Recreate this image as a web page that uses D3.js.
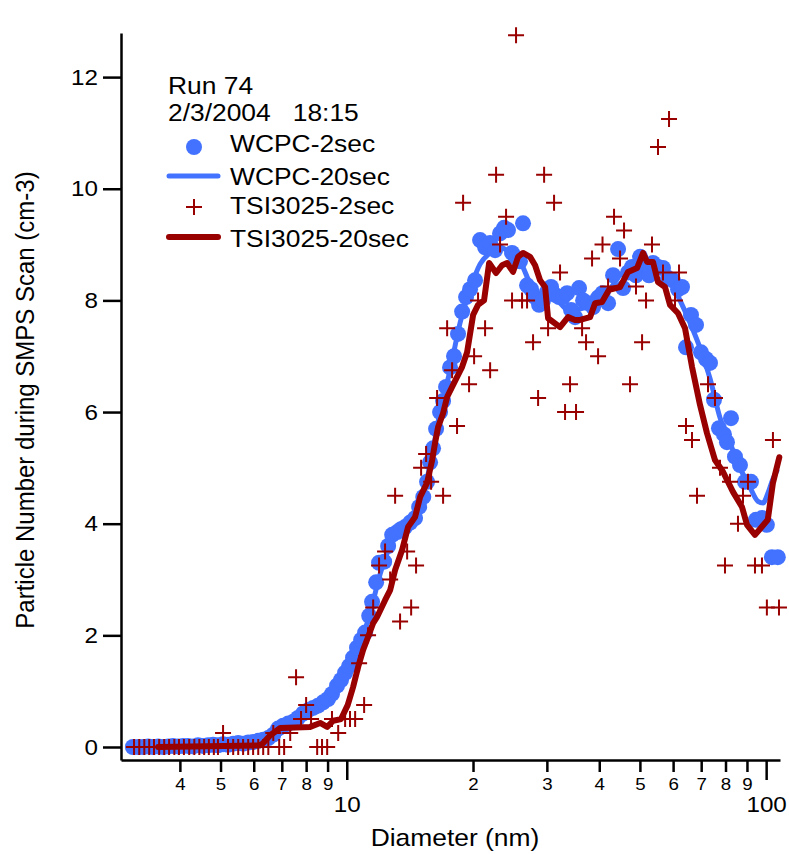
<!DOCTYPE html>
<html><head><meta charset="utf-8">
<script src="https://cdn.jsdelivr.net/npm/d3@7"></script>
<style>body{margin:0;background:#fff} svg{display:block} text{font-family:"Liberation Sans",Arial,Helvetica,sans-serif;fill:#000}</style>
</head><body><svg id="chart" width="789" height="854"></svg>
<script>
// ---------- data ----------
const xMinorTicks = [4,5,6,7,8,9,20,30,40,50,60,70,80,90];
const xMinorLabels = ["4","5","6","7","8","9","2","3","4","5","6","7","8","9"];
const xMajorTicks = [10,100];
const yTicks = [0,2,4,6,8,10,12];
const legendTitle = ["Run 74","2/3/2004   18:15"];
const seriesNames = ["WCPC-2sec","WCPC-20sec","TSI3025-2sec","TSI3025-20sec"];

// [diameter nm, particle number]
const wcpc2sec = [[3.09,0.0],[3.18,0.0],[3.27,0.0],[3.36,0.01],[3.45,0.0],[3.55,0.01],[3.65,0.0],[3.75,0.01],[3.85,0.02],[3.96,0.01],[4.07,0.02],[4.18,0.02],[4.30,0.01],[4.42,0.03],[4.54,0.02],[4.67,0.03],[4.80,0.04],[4.93,0.03],[5.07,0.05],[5.21,0.04],[5.36,0.06],[5.51,0.07],[5.66,0.06],[5.82,0.08],[5.98,0.09],[6.15,0.11],[6.32,0.13],[6.50,0.16],[6.68,0.22],[6.86,0.33],[7.05,0.38],[7.25,0.42],[7.45,0.45],[7.65,0.52],[7.87,0.6],[8.09,0.66],[8.31,0.7],[8.54,0.74],[8.78,0.8],[9.02,0.86],[9.22,0.95],[9.48,1.1],[9.69,1.2],[9.91,1.33],[10.13,1.45],[10.35,1.6],[10.58,1.78],[10.82,1.92],[11.06,2.05],[11.31,2.35],[11.49,2.6],[11.75,2.95],[11.94,3.3],[12.28,3.32],[12.55,3.6],[12.83,3.8],[13.19,3.85],[13.47,3.9],[13.77,3.94],[14.16,4.02],[14.55,4.1],[14.88,4.3],[15.22,4.48],[15.54,4.75],[15.80,5.1],[16.06,5.35],[16.33,5.7],[16.69,6.0],[16.97,6.2],[17.25,6.45],[17.63,6.8],[18.02,7.0],[18.42,7.4],[18.84,7.8],[19.25,8.06],[19.68,8.2],[20.23,8.36],[20.79,9.08],[21.37,8.95],[21.97,9.03],[22.58,8.9],[23.20,9.2],[23.72,9.3],[24.24,9.26],[24.78,8.85],[25.33,8.76],[25.89,8.7],[26.32,9.38],[26.91,8.27],[27.51,8.2],[28.12,8.06],[28.74,7.92],[29.38,8.0],[30.03,8.15],[30.70,8.24],[31.38,8.1],[32.08,8.06],[32.79,8.06],[33.52,8.13],[34.26,7.83],[35.02,7.7],[35.80,8.22],[36.60,8.0],[37.62,7.95],[38.67,7.88],[39.74,8.05],[40.72,8.13],[41.98,7.95],[43.15,8.45],[44.35,8.92],[45.58,8.22],[46.84,8.5],[47.88,8.6],[48.94,8.45],[50.04,8.78],[51.43,8.55],[52.56,8.45],[53.72,8.67],[55.22,8.6],[56.76,8.58],[58.35,8.4],[59.97,8.36],[61.64,8.2],[63.01,8.24],[64.40,7.16],[66.20,7.74],[68.04,7.56],[69.92,7.07],[71.87,6.95],[73.47,6.88],[75.10,6.22],[77.18,5.71],[79.33,5.6],[80.64,5.46],[82.44,5.89],[84.27,5.2],[86.62,5.05],[89.03,4.75],[92.00,4.75],[94.56,4.07],[97.73,4.1],[100.4,3.98],[103.2,3.4],[106.6,3.4]];

const wcpc20sec = [[3.09,0.0],[3.59,0.01],[4.47,0.02],[5.27,0.05],[5.88,0.08],[6.39,0.14],[6.75,0.25],[7.13,0.38],[7.74,0.55],[8.40,0.72],[9.12,0.9],[9.64,1.15],[10.18,1.45],[10.76,1.85],[11.37,2.4],[12.01,3.1],[12.69,3.6],[13.40,3.9],[14.16,4.05],[14.96,4.35],[15.80,5.05],[16.69,6.0],[17.63,6.75],[18.63,7.6],[19.68,8.2],[20.79,8.65],[21.97,8.85],[23.20,8.95],[24.51,8.85],[25.89,8.7],[27.36,8.3],[28.90,8.0],[30.53,8.1],[32.25,7.95],[34.07,7.8],[36.00,7.85],[38.03,7.9],[40.17,8.0],[42.44,8.2],[44.83,8.45],[47.36,8.55],[50.04,8.62],[52.85,8.6],[55.84,8.55],[58.99,8.35],[62.32,8.0],[65.84,7.6],[69.54,7.15],[73.47,6.6],[77.61,5.9],[81.99,5.45],[86.62,5.0],[91.50,4.65],[95.6,4.4],[98.3,4.37],[101.0,4.55],[103.8,4.8],[106.1,4.95]];

const tsi2sec = [[3.11,0],[3.20,0],[3.29,0],[3.38,0],[3.47,0],[3.57,0],[3.67,0],[3.77,0],[3.88,0],[3.98,0],[4.09,0],[4.21,0],[4.33,0],[4.45,0],[4.57,0],[4.69,0],[4.82,0],[4.93,0],[5.07,0.25],[5.21,0],[5.36,0],[5.51,0],[5.66,0],[5.82,0],[5.98,0],[6.15,0],[6.32,0],[6.50,0],[6.68,0.25],[6.90,0],[7.09,0],[7.33,0.25],[7.57,1.25],[7.78,0.5],[8.00,0.75],[8.22,0.5],[8.50,0],[8.73,0],[8.98,0],[9.22,0.5],[9.54,0.25],[9.91,0.5],[10.18,0.5],[10.47,0.5],[10.70,1.5],[11.00,0.75],[11.24,2.0],[11.56,2.5],[11.94,3.25],[12.34,3.5],[12.69,3.0],[13.04,4.5],[13.40,2.25],[13.93,3.5],[14.24,2.5],[14.63,3.25],[15.04,5.0],[15.46,5.25],[15.89,4.75],[16.42,6.25],[16.97,4.5],[17.35,7.5],[17.83,6.75],[18.32,5.75],[18.94,9.75],[19.57,6.5],[20.12,7.0],[20.56,8.0],[21.37,7.5],[21.97,6.75],[22.70,10.25],[23.20,9.0],[23.98,9.5],[24.78,8.0],[25.33,12.75],[26.18,8.0],[26.91,8.0],[27.81,7.25],[28.59,6.25],[29.55,10.25],[30.20,7.5],[31.21,9.75],[32.25,8.5],[33.15,6.0],[34.07,6.5],[35.21,6.0],[36.40,7.5],[37.20,7.25],[38.45,8.75],[39.74,7.0],[40.72,9.0],[41.98,8.25],[43.38,9.5],[44.83,8.75],[45.83,9.25],[47.36,6.5],[48.94,8.25],[50.60,7.25],[51.71,8.0],[53.43,9.0],[55.22,10.75],[56.76,8.5],[58.67,11.25],[60.63,8.0],[61.98,8.5],[64.40,5.75],[66.56,5.5],[68.41,4.5],[72.67,6.5],[75.51,6.25],[77.61,5.0],[79.77,3.25],[81.99,4.75],[85.67,4.0],[88.06,4.5],[90.50,4.75],[94.05,3.25],[97.73,3.25],[100.4,2.5],[103.8,5.5],[107.3,2.5]];

const tsi20sec = [[3.55,0.0],[6.21,0.03],[6.32,0.07],[6.57,0.21],[6.94,0.34],[8.18,0.36],[8.64,0.43],[8.98,0.36],[9.28,0.47],[9.69,0.5],[10.05,0.75],[10.35,1.07],[10.64,1.43],[10.94,1.74],[11.24,1.97],[11.56,2.22],[11.81,2.33],[12.34,2.63],[12.69,2.81],[13.04,3.17],[13.55,3.53],[14.00,3.94],[14.55,4.12],[14.96,4.48],[15.54,4.73],[15.98,5.14],[16.24,5.45],[16.51,5.73],[16.97,5.98],[17.35,6.27],[17.83,6.45],[18.84,6.81],[19.36,7.07],[20.01,7.74],[20.56,7.92],[21.25,8.0],[21.85,8.67],[22.70,8.49],[23.46,8.63],[24.11,8.67],[24.92,8.51],[25.61,8.78],[26.32,8.85],[27.36,8.78],[28.12,8.63],[28.90,8.36],[29.71,8.24],[30.20,7.68],[32.25,7.52],[33.70,7.7],[35.02,7.65],[36.00,7.65],[38.03,7.7],[39.09,7.95],[40.61,7.97],[42.21,8.19],[44.83,8.24],[46.84,8.51],[49.22,8.58],[50.88,8.85],[52.00,8.69],[53.72,8.69],[55.22,8.33],[57.39,8.24],[58.99,7.92],[61.64,7.77],[64.05,7.5],[66.56,6.81],[69.54,6.13],[72.27,5.62],[75.51,5.14],[78.90,4.93],[83.35,4.57],[87.58,4.3],[90.01,3.98],[94.05,3.8],[100.9,4.07],[103.8,4.73],[107.5,5.19]];

// ---------- drawing ----------
const W = 789, H = 854;
const SX = 1.1; // horizontal stretch of the original export's lettering
const blue = "#4272ff", red = "#990000";
const x = d3.scaleLog().domain([2.895, 107.9]).range([121, 780]);
const y = d3.scaleLinear().domain([-0.233, 12.79]).range([760, 33]);
const svg = d3.select("#chart");
svg.append("rect").attr("width", W).attr("height", H).attr("fill", "#fff");

function stext(g, px, py, str, size, anchor) {
  return g.append("text")
    .attr("transform", `translate(${px},${py}) scale(${SX},1)`)
    .attr("font-size", size)
    .attr("text-anchor", anchor || "start")
    .style("white-space", "pre")
    .text(str);
}

// y axis
const gy = svg.append("g").attr("transform", "translate(121,0)")
  .call(d3.axisLeft(y).tickValues(yTicks).tickSize(18).tickPadding(3).tickSizeOuter(0).tickFormat(d3.format("d")));
gy.selectAll("text").attr("font-size", 22).attr("transform", `scale(${SX},1)`);
gy.selectAll("line,path").attr("stroke", "#000").attr("stroke-width", 2.5);

// x axis minor
const gx = svg.append("g").attr("transform", "translate(0,760)")
  .call(d3.axisBottom(x).tickValues(xMinorTicks).tickSize(12).tickPadding(6).tickSizeOuter(0)
    .tickFormat((d, i) => xMinorLabels[i]));
gx.selectAll("text").attr("font-size", 17).attr("transform", `scale(${SX},1)`);
gx.selectAll("line,path").attr("stroke", "#000").attr("stroke-width", 2.5);

// x axis major
const gx2 = svg.append("g").attr("transform", "translate(0,760)")
  .call(d3.axisBottom(x).tickValues(xMajorTicks).tickSize(20).tickPadding(16).tickSizeOuter(0)
    .tickFormat(d3.format("d")));
gx2.select(".domain").remove();
gx2.selectAll("text").attr("font-size", 22).attr("transform", `scale(${SX},1)`);
gx2.selectAll("line").attr("stroke", "#000").attr("stroke-width", 2.5);

// axis titles
stext(svg, 455, 846, "Diameter (nm)", 24, "middle");
svg.append("text")
  .attr("transform", "translate(34,400) rotate(-90) scale(1,1.1)")
  .attr("font-size", 24).attr("text-anchor", "middle")
  .text("Particle Number during SMPS Scan (cm-3)");

// series
const line = d3.line().x(d => x(d[0])).y(d => y(d[1]));
svg.append("path").datum(wcpc20sec)
  .attr("d", line.curve(d3.curveMonotoneX))
  .attr("fill", "none").attr("stroke", blue).attr("stroke-width", 5)
  .attr("stroke-linejoin", "round").attr("stroke-linecap", "round");

svg.append("g").selectAll("circle").data(wcpc2sec).join("circle")
  .attr("cx", d => x(d[0])).attr("cy", d => y(d[1])).attr("r", 8).attr("fill", blue);

svg.append("g").selectAll("path").data(tsi2sec).join("path")
  .attr("transform", d => `translate(${x(d[0])},${y(d[1])})`)
  .attr("d", "M-8,0H8M0,-8V8").attr("stroke", red).attr("stroke-width", 2).attr("fill", "none");

svg.append("path").datum(tsi20sec)
  .attr("d", d3.line().x(d => x(d[0])).y(d => y(d[1])))
  .attr("fill", "none").attr("stroke", red).attr("stroke-width", 6)
  .attr("stroke-linejoin", "round").attr("stroke-linecap", "round");

// legend
const lg = svg.append("g");
stext(lg, 168, 94, legendTitle[0], 24);
stext(lg, 168, 121, legendTitle[1], 24);
lg.append("circle").attr("cx", 194).attr("cy", 147).attr("r", 8).attr("fill", blue);
stext(lg, 230, 152, seriesNames[0], 24);
lg.append("line").attr("x1", 169).attr("x2", 218).attr("y1", 176).attr("y2", 176)
  .attr("stroke", blue).attr("stroke-width", 5).attr("stroke-linecap", "round");
stext(lg, 230, 185, seriesNames[1], 24);
lg.append("path").attr("transform", "translate(194,207)").attr("d", "M-8,0H8M0,-8V8")
  .attr("stroke", red).attr("stroke-width", 2);
stext(lg, 230, 214, seriesNames[2], 24);
lg.append("line").attr("x1", 169).attr("x2", 218).attr("y1", 237).attr("y2", 237)
  .attr("stroke", red).attr("stroke-width", 6).attr("stroke-linecap", "round");
stext(lg, 230, 247, seriesNames[3], 24);
</script></body></html>
